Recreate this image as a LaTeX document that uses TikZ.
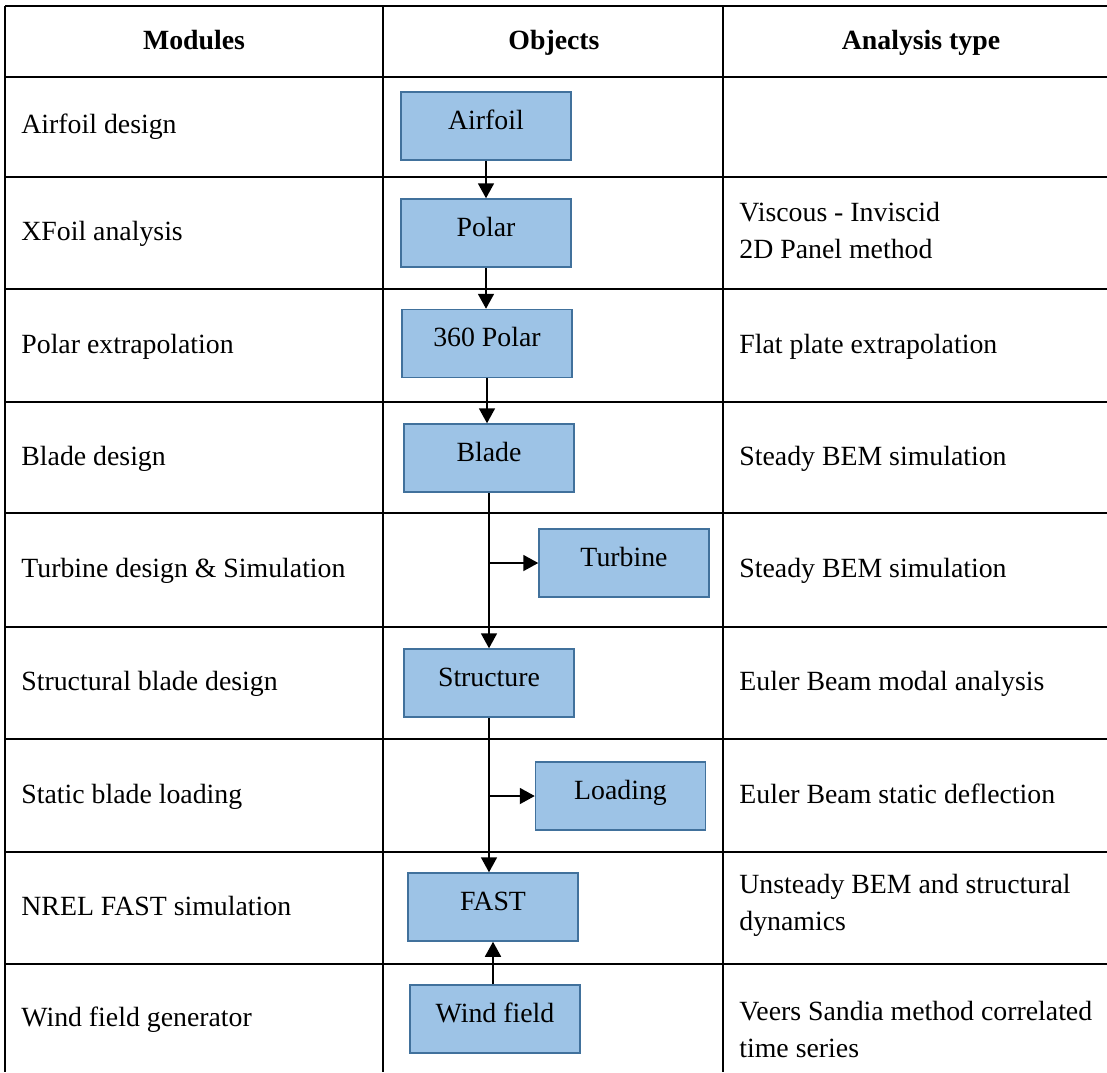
\documentclass[tikz,border=0pt]{standalone}
\usepackage{fontspec}
\setmainfont{Liberation Serif}
\usetikzlibrary{arrows.meta, positioning}
\definecolor{objfill}{HTML}{9DC3E6}
\definecolor{objdraw}{HTML}{41719C}

\begin{document}
\begin{tikzpicture}[
  x=0.5pt, y=-0.5pt,
  every node/.style={font=\fontsize{13.9}{18.5}\selectfont},
  grid/.style={line width=0.85pt},
  obj/.style={rectangle, draw=objdraw, fill=objfill, line width=0.75pt, minimum width=85pt, minimum height=34pt, text height=9pt, text depth=6pt},
  cell/.style={anchor=base west, inner sep=0pt, align=left},
  head/.style={anchor=base, inner sep=0pt, font=\fontsize{13.9}{18.5}\selectfont\bfseries},
  arr/.style={-{Triangle[width=8pt, length=7.5pt]}, line width=0.9pt},
]
\useasboundingbox (0,0) rectangle (1107,1072);

% table grid
\foreach \y in {6,77,177,289,402,513,627,739,852,964}
  \draw[grid] (5,\y) -- (1107,\y);
\foreach \x in {5,383,723}
  \draw[grid] (\x,6) -- (\x,1072);

\node[head] (hmod) at (194,49) {Modules};
\node[head] (hobj) at (554,49) {Objects};
\node[head] (hana) at (921,49) {Analysis type};

\node[cell] (mairfoil) at (21,133) {Airfoil design};
\node[cell] (mxfoil) at (21,240.7) {XFoil analysis};
\node[cell] (mextra) at (21,353) {Polar extrapolation};
\node[cell] (mblade) at (21,465) {Blade design};
\node[cell] (mturbine) at (21,577.7) {Turbine design \& Simulation};
\node[cell] (mstruct) at (21,690.7) {Structural blade design};
\node[cell] (mstatic) at (21,803) {Static blade loading};
\node[cell] (mfast) at (21,915.7) {NREL FAST simulation};
\node[cell] (mwind) at (21,1026) {Wind field generator};

% multi-line cells sit on their last line
\node[cell] (axfoil) at (739,258) {Viscous - Inviscid\\2D Panel method};
\node[cell] (aextra) at (739,353) {Flat plate extrapolation};
\node[cell] (ablade) at (739,465) {Steady BEM simulation};
\node[cell] (aturbine) at (739,577.7) {Steady BEM simulation};
\node[cell] (astruct) at (739,690.7) {Euler Beam modal analysis};
\node[cell] (astatic) at (739,803) {Euler Beam static deflection};
\node[cell] (afast) at (739,930) {Unsteady BEM and structural\\dynamics};
\node[cell] (awind) at (739,1057.4) {Veers Sandia method correlated\\time series};

\node[obj] (airfoil) at (486,126) {Airfoil};
\node[obj] (polar) at (486,233) {Polar};
\node[obj] (polar360) at (487,343.5) {360 Polar};
\node[obj] (blade) at (489,458) {Blade};
\node[obj] (turbine) at (624,563) {Turbine};
\node[obj] (structure) at (489,683) {Structure};
\node[obj] (loading) at (620.5,796) {Loading};
\node[obj] (fast) at (493,907) {FAST};
\node[obj] (wind) at (495,1019) {Wind field};

\draw[arr] (airfoil) -- (polar);
\draw[arr] (polar.south) -- (polar.south |- polar360.north);
\draw[arr] (polar360.south) -- (polar360.south |- blade.north);
\draw[arr] (blade.south) -- (blade.south |- structure.north);
\draw[arr] (blade.south |- turbine.west) -- (turbine.west);
\draw[arr] (structure.south) -- (structure.south |- fast.north);
\draw[arr] (structure.south |- loading.west) -- (loading.west);
\draw[arr] (fast.south |- wind.north) -- (fast.south);

\end{tikzpicture}
\end{document}
